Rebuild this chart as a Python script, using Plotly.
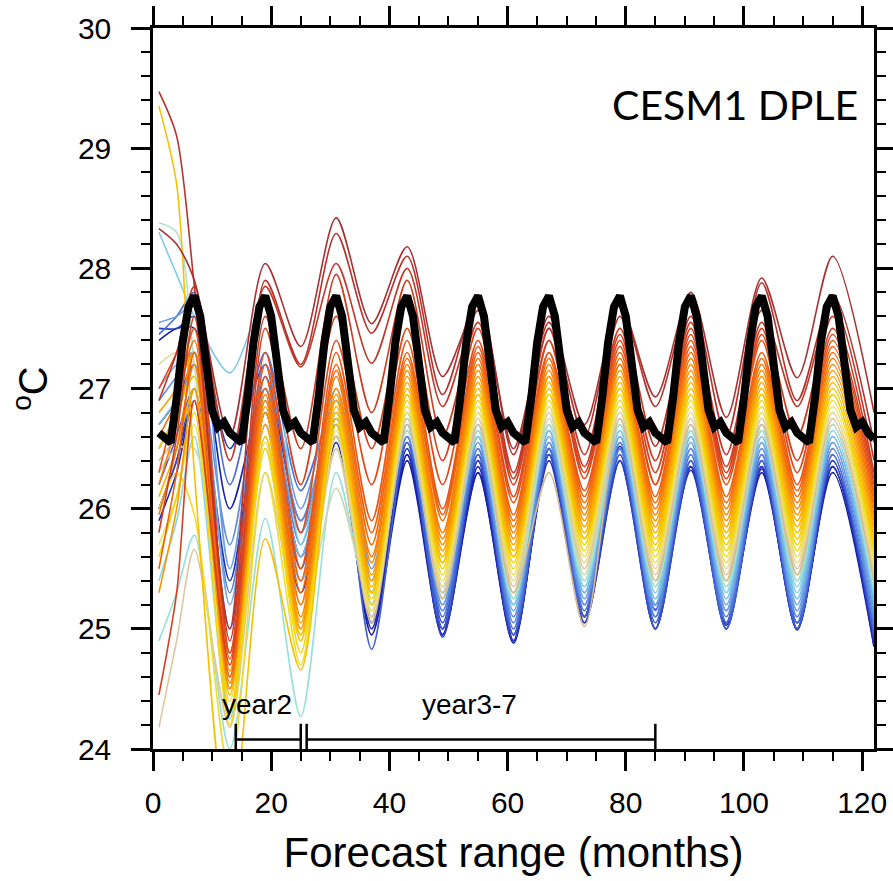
import plotly.graph_objects as go

# ---------------- data ----------------
# key forecast months at which each ensemble member is sampled (start, peaks, troughs, end)
key_months = [1, 4, 7, 13, 19, 25, 31, 37, 43, 49, 55, 61, 67, 73, 79, 85, 91, 97, 103, 109, 115, 122]

# observed monthly climatology (calendar cycle, first forecast month first)
obs_clim = [26.63, 26.58, 26.55, 26.92, 27.38, 27.68, 27.77, 27.6, 27.18, 26.82, 26.68, 26.72]
forecast_months = list(range(1, 123))

m01 = [28.33, 28.2, 27.9, 26.6, 28.04, 27.35, 28.42, 27.54, 28.18, 27.1, 27.7, 26.5, 27.6, 26.7, 27.7, 26.93, 27.8, 26.76, 27.92, 27.09, 28.1, 26.8]
m02 = [29.47, 29.1, 27.85, 25.0, 27.9, 27.2, 28.29, 27.46, 28.1, 26.95, 27.78, 26.45, 27.55, 26.6, 27.7, 26.85, 27.75, 26.6, 27.88, 26.9, 27.78, 26.55]
m03 = [26.9, 27.3, 27.85, 26.4, 27.85, 27.18, 28.04, 27.21, 28.0, 26.85, 27.65, 26.3, 27.5, 26.45, 27.6, 26.52, 27.6, 26.45, 27.65, 26.85, 27.7, 26.4]
m04 = [25.8, 26.6, 27.6, 24.9, 27.6, 26.5, 27.95, 26.8, 27.9, 26.6, 27.55, 26.25, 27.5, 26.35, 27.5, 26.4, 27.55, 26.35, 27.55, 26.6, 27.6, 26.3]
m05 = [24.45, 25.3, 26.9, 24.7, 27.5, 26.2, 27.6, 26.5, 27.7, 26.4, 27.5, 26.2, 27.4, 26.3, 27.45, 26.3, 27.5, 26.3, 27.5, 26.4, 27.5, 26.25]
m06 = [27.0, 27.3, 27.7, 24.8, 27.3, 25.8, 27.4, 26.2, 27.5, 26.2, 27.4, 26.1, 27.4, 26.25, 27.4, 26.2, 27.45, 26.25, 27.45, 26.3, 27.45, 26.2]
m07 = [26.3, 26.9, 27.5, 24.75, 27.2, 25.5, 27.3, 25.9, 27.4, 26.0, 27.35, 26.05, 27.3, 26.15, 27.35, 26.2, 27.4, 26.2, 27.4, 26.2, 27.4, 26.15]
m08 = [25.5, 26.3, 27.3, 24.6, 27.1, 25.4, 27.2, 25.8, 27.3, 25.95, 27.3, 25.95, 27.3, 26.1, 27.3, 26.1, 27.35, 26.1, 27.3, 26.15, 27.35, 26.1]
m09 = [26.6, 26.9, 27.4, 24.8, 27.0, 25.3, 27.15, 25.7, 27.25, 25.9, 27.25, 25.9, 27.25, 26.05, 27.25, 26.05, 27.3, 26.05, 27.25, 26.1, 27.3, 26.05]
m10 = [25.95, 26.5, 27.2, 24.55, 26.95, 25.2, 27.1, 25.6, 27.2, 25.8, 27.2, 25.85, 27.2, 26.0, 27.2, 26.0, 27.25, 26.0, 27.2, 26.05, 27.25, 26.0]
m11 = [26.2, 26.7, 27.3, 24.65, 26.9, 25.1, 27.0, 25.55, 27.15, 25.75, 27.15, 25.8, 27.15, 25.95, 27.2, 25.95, 27.2, 25.95, 27.15, 26.0, 27.2, 25.95]
m12 = [25.3, 26.0, 27.0, 24.5, 26.8, 25.0, 26.95, 25.45, 27.1, 25.7, 27.1, 25.75, 27.1, 25.9, 27.15, 25.9, 27.15, 25.9, 27.1, 25.95, 27.15, 25.9]
m13 = [26.8, 27.0, 27.3, 24.6, 26.85, 25.05, 26.9, 25.4, 27.05, 25.65, 27.05, 25.7, 27.1, 25.85, 27.1, 25.85, 27.1, 25.85, 27.05, 25.9, 27.1, 25.85]
m14 = [26.1, 26.5, 27.0, 24.45, 26.7, 24.95, 26.85, 25.35, 27.0, 25.6, 27.0, 25.65, 27.05, 25.8, 27.05, 25.8, 27.05, 25.8, 27.0, 25.85, 27.05, 25.8]
m15 = [29.35, 28.7, 26.3, 23.2, 25.75, 24.66, 26.7, 25.3, 26.95, 25.55, 26.95, 25.6, 27.0, 25.75, 27.0, 25.75, 27.0, 25.75, 26.95, 25.8, 27.0, 25.75]
m16 = [26.5, 26.8, 27.1, 24.3, 26.6, 24.9, 26.8, 25.3, 26.95, 25.55, 26.95, 25.6, 26.95, 25.75, 27.0, 25.7, 26.95, 25.7, 26.95, 25.75, 26.95, 25.7]
m17 = [25.6, 26.1, 26.8, 24.2, 26.5, 24.8, 26.75, 25.25, 26.9, 25.5, 26.9, 25.55, 26.95, 25.7, 26.95, 25.65, 26.95, 25.65, 26.9, 25.7, 26.95, 25.65]
m18 = [26.0, 26.3, 25.95, 23.8, 26.3, 24.7, 26.7, 25.2, 26.85, 25.45, 26.85, 25.5, 26.9, 25.65, 26.9, 25.6, 26.9, 25.6, 26.85, 25.65, 26.9, 25.6]
m19 = [25.7, 26.1, 26.7, 24.4, 26.55, 24.9, 26.65, 25.15, 26.8, 25.4, 26.8, 25.45, 26.85, 25.6, 26.85, 25.55, 26.85, 25.55, 26.8, 25.6, 26.85, 25.55]
m20 = [27.2, 27.3, 27.2, 24.5, 26.6, 24.95, 26.6, 25.1, 26.8, 25.35, 26.8, 25.4, 26.85, 25.55, 26.85, 25.5, 26.8, 25.5, 26.8, 25.55, 26.8, 25.5]
m21 = [24.18, 24.9, 25.66, 24.18, 26.3, 25.0, 26.5, 25.1, 26.75, 25.3, 26.75, 25.35, 26.8, 25.5, 26.8, 25.45, 26.75, 25.45, 26.75, 25.5, 26.8, 25.45]
m22 = [26.4, 26.6, 26.9, 24.7, 26.7, 25.2, 26.5, 25.05, 26.7, 25.25, 26.7, 25.3, 26.3, 25.02, 26.75, 25.4, 26.7, 25.4, 26.7, 25.45, 26.75, 25.4]
m23 = [26.3, 26.5, 26.5, 24.5, 26.5, 25.0, 26.17, 25.2, 26.7, 25.3, 26.7, 25.3, 26.75, 25.45, 26.75, 25.4, 26.7, 25.4, 26.7, 25.45, 26.7, 25.4]
m24 = [28.38, 28.3, 27.2, 24.6, 26.9, 25.4, 26.8, 25.3, 26.65, 25.3, 26.65, 25.25, 26.7, 25.4, 26.7, 25.35, 26.7, 25.35, 26.65, 25.4, 26.7, 25.35]
m25 = [24.9, 25.3, 25.78, 24.0, 25.92, 24.27, 26.3, 25.15, 26.65, 25.25, 26.65, 25.25, 26.7, 25.4, 26.7, 25.35, 26.65, 25.35, 26.65, 25.4, 26.7, 25.35]
m26 = [25.4, 25.9, 26.6, 24.25, 26.6, 24.9, 26.6, 25.2, 26.7, 25.3, 26.65, 25.25, 26.7, 25.35, 26.7, 25.35, 26.65, 25.3, 26.7, 25.35, 26.7, 25.3]
m27 = [28.3, 27.95, 27.6, 27.13, 27.74, 25.7, 26.9, 25.4, 26.8, 25.35, 26.7, 25.2, 26.7, 25.35, 26.65, 25.3, 26.65, 25.3, 26.65, 25.3, 26.65, 25.3]
m28 = [26.7, 26.9, 27.1, 24.8, 26.9, 25.6, 26.8, 25.4, 26.75, 25.3, 26.6, 25.2, 26.65, 25.3, 26.65, 25.25, 26.6, 25.25, 26.6, 25.25, 26.6, 25.25]
m29 = [27.0, 27.2, 27.3, 25.2, 27.0, 25.8, 26.9, 25.3, 26.7, 25.25, 26.6, 25.15, 26.65, 25.3, 26.6, 25.2, 26.6, 25.2, 26.55, 25.2, 26.6, 25.2]
m30 = [27.55, 27.6, 27.7, 25.5, 27.2, 26.0, 27.0, 25.5, 26.8, 25.3, 26.65, 25.2, 26.6, 25.25, 26.6, 25.2, 26.55, 25.15, 26.55, 25.15, 26.55, 25.15]
m31 = [26.9, 27.1, 27.3, 25.7, 27.2, 25.9, 26.8, 25.3, 26.7, 25.2, 26.55, 25.1, 26.55, 25.2, 26.55, 25.15, 26.5, 25.15, 26.5, 25.1, 26.55, 25.1]
m32 = [26.5, 26.8, 27.2, 25.3, 27.1, 25.7, 26.75, 25.2, 26.6, 25.15, 26.5, 25.05, 26.55, 25.2, 26.5, 25.1, 26.5, 25.1, 26.45, 25.1, 26.5, 25.05]
m33 = [27.45, 27.6, 27.8, 26.2, 27.3, 26.15, 26.9, 25.4, 26.65, 25.1, 26.5, 25.0, 26.5, 25.15, 26.5, 25.1, 26.45, 25.05, 26.45, 25.05, 26.45, 25.0]
m34 = [26.2, 26.6, 27.0, 25.0, 27.0, 25.6, 26.7, 24.83, 26.55, 25.0, 26.45, 24.95, 26.5, 25.1, 26.5, 25.05, 26.4, 25.0, 26.4, 25.0, 26.45, 24.95]
m35 = [26.0, 26.4, 27.0, 24.5, 26.9, 25.5, 26.8, 25.2, 26.6, 25.05, 26.45, 24.95, 26.45, 25.1, 26.45, 25.0, 26.4, 25.0, 26.4, 25.05, 26.4, 24.95]
m36 = [27.5, 27.5, 27.6, 26.5, 27.2, 25.8, 26.75, 25.3, 26.55, 24.93, 26.4, 24.9, 26.45, 25.05, 26.4, 25.0, 26.35, 25.0, 26.35, 25.0, 26.4, 24.9]
m37 = [26.7, 26.9, 27.2, 25.4, 27.1, 25.9, 26.7, 25.1, 26.5, 25.0, 26.4, 24.95, 26.4, 25.05, 26.4, 25.0, 26.35, 25.05, 26.35, 25.0, 26.35, 24.9]
m38 = [25.9, 26.3, 26.9, 24.5, 26.8, 25.4, 26.6, 25.0, 26.45, 24.95, 26.35, 24.9, 26.5, 25.1, 26.52, 25.16, 26.32, 25.03, 26.33, 24.99, 26.35, 24.86]
m39 = [27.4, 27.5, 27.5, 26.0, 27.0, 25.6, 26.6, 25.05, 26.45, 25.0, 26.3, 24.9, 26.45, 25.1, 26.5, 25.2, 26.35, 25.05, 26.35, 25.0, 26.35, 24.9]
m40 = [26.0, 26.4, 26.9, 24.6, 26.7, 25.3, 26.55, 24.95, 26.4, 24.95, 26.3, 24.88, 26.5, 25.1, 26.55, 25.2, 26.35, 25.05, 26.3, 25.05, 26.3, 24.85]

member_colors = [
    "#a83232", "#b5322d", "#c0392b", "#cc3b22", "#d6401f", "#e04a1a", "#e85516", "#ee6010",
    "#f26d0c", "#f57a08", "#f88805", "#fa9602", "#fba500", "#fcb400", "#f8c000", "#f5cc00",
    "#f2d610", "#efdc30", "#ece060", "#e8d890", "#dcc8a0", "#d4b890", "#c8d8b0", "#b0e0c8",
    "#98e0d8", "#88d8e8", "#80cce8", "#78bce8", "#70ace8", "#6a9ce6", "#6090e0", "#5580dc",
    "#4a70d8", "#4060d0", "#3550c8", "#2a40c0", "#2232b8", "#1c28b0", "#1820a8", "#141aa0",
]

period_labels = ["year2", "year3-7"]
period_start = [14, 26]
period_end = [25, 85]

members = [m01, m02, m03, m04, m05, m06, m07, m08, m09, m10, m11, m12, m13, m14, m15, m16, m17, m18, m19, m20,
           m21, m22, m23, m24, m25, m26, m27, m28, m29, m30, m31, m32, m33, m34, m35, m36, m37, m38, m39, m40]

# ---------------- figure ----------------
fig = go.Figure()

for vals, col in reversed(list(zip(members, member_colors))):
    fig.add_trace(go.Scatter(x=key_months, y=vals, mode="lines",
                             line=dict(color=col, width=1.6, shape="spline", smoothing=0.8),
                             hoverinfo="skip"))

obs_series = [obs_clim[(m - 1) % 12] for m in forecast_months]
fig.add_trace(go.Scatter(x=forecast_months, y=obs_series, mode="lines",
                         line=dict(color="black", width=8), hoverinfo="skip"))

# period brackets
label_font = dict(family="Liberation Sans, Arial, sans-serif", size=28, color="black")
label_x = [17.6, 53.5]
for lab, s, e, lx in zip(period_labels, period_start, period_end, label_x):
    fig.add_shape(type="line", x0=s, x1=e, y0=24.08, y1=24.08, xref="x", yref="y",
                  line=dict(color="black", width=2.5), layer="above")
    for xx in (s, e):
        fig.add_shape(type="line", x0=xx, x1=xx, y0=24.0, y1=24.21, xref="x", yref="y",
                      line=dict(color="black", width=2.5), layer="above")
    fig.add_annotation(x=lx, y=24.37, xref="x", yref="y", text=lab, showarrow=False,
                       font=label_font)

fig.add_annotation(x=0.807, y=0.894, xref="paper", yref="paper", text="CESM1 DPLE",
                   showarrow=False, xanchor="center", yanchor="middle",
                   font=dict(family="Lato, Open Sans, sans-serif", size=41, color="black"))

axis_common = dict(
    showline=True, linecolor="black", linewidth=2.5, mirror="ticks",
    ticks="outside", ticklen=19, tickwidth=2.5, tickcolor="black",
    showgrid=False, zeroline=False, automargin=False,
    tickfont=dict(family="Liberation Sans, Arial, sans-serif", size=30, color="black"),
)

fig.update_xaxes(range=[0, 122], dtick=20, tick0=0,
                 minor=dict(ticks="outside", ticklen=9, tickwidth=2, tickcolor="black", dtick=5, tick0=0),
                 title=dict(text="Forecast range (months)",
                            font=dict(family="Liberation Sans, Arial, sans-serif", size=42, color="black"),
                            standoff=20),
                 ticklabelstandoff=6, **axis_common)
fig.update_yaxes(range=[24, 30], dtick=1, tick0=24,
                 minor=dict(ticks="outside", ticklen=9, tickwidth=2, tickcolor="black", dtick=0.2, tick0=24),
                 title=dict(text="<sup>o</sup>C",
                            font=dict(family="Liberation Sans, Arial, sans-serif", size=40, color="black"),
                            standoff=18),
                 ticklabelstandoff=14, **axis_common)

fig.update_layout(
    width=893, height=881,
    margin=dict(l=153, r=19, t=28, b=132),
    plot_bgcolor="white", paper_bgcolor="white",
    showlegend=False,
)

fig.write_html("out.html")
